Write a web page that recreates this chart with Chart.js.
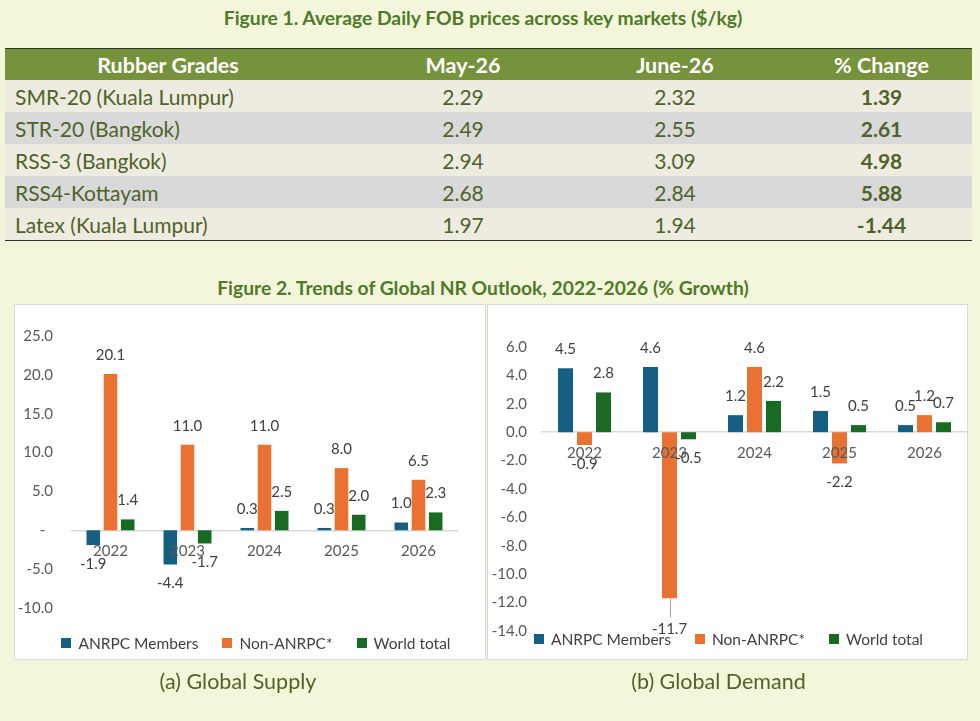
<!DOCTYPE html>
<html>
<head>
<meta charset="utf-8">
<script src="https://cdn.jsdelivr.net/npm/chart.js@4.4.1/dist/chart.umd.min.js"></script>
<style>
  body { margin: 0; width: 980px; height: 721px; background: #F4F6DC; position: relative; overflow: hidden; font-family: Lato, "Open Sans", sans-serif; }
  .title { position: absolute; left: 0; width: 966px; text-align: center; font-weight: bold; font-size: 19.3px; color: #4F7A28; }
  table { position: absolute; left: 5px; top: 48px; width: 967px; border-collapse: collapse; table-layout: fixed; border-top: 1px solid #333; border-bottom: 1px solid #333; }
  th { background: #76923C; color: #fff; font-size: 21.5px; font-weight: bold; height: 31px; padding: 0; text-align: center; }
  td { font-size: 21px; color: #4F6228; height: 32px; padding: 0; text-align: center; }
  td.grade { text-align: left; padding-left: 10px; }
  td.pct { font-weight: bold; }
  th.last, td.pct { padding-left: 36px; }
  tr.odd td { background: #EEECE1; }
  tr.even td { background: #D9D9D9; }
  .panel { position: absolute; background: #fff; border: 1px solid #D9D9D9; }
  .legend { position: absolute; width: 100%; display: flex; justify-content: center; font-size: 15.5px; color: #404040; }
  .legend span.item { display: flex; align-items: center; margin: 0 12px; }
  .legend span.box { width: 10px; height: 10px; margin-right: 7px; display: inline-block; }
  .caption { position: absolute; top: 668px; text-align: center; font-size: 21.5px; color: #4F6228; }
</style>
</head>
<body>
<div class="title" style="top:6px">Figure 1. Average Daily FOB prices across key markets ($/kg)</div>
<table id="prices"></table>
<div class="title" style="top:276px">Figure 2. Trends of Global NR Outlook, 2022-2026 (% Growth)</div>

<div class="panel" style="left:14px;top:304px;width:470px;height:354px">
  <canvas id="supply"></canvas>
  <div class="legend" id="supplyLegend" style="top:329px;left:6px"></div>
</div>
<div class="panel" style="left:487px;top:304px;width:479px;height:354px">
  <canvas id="demand"></canvas>
  <div class="legend" id="demandLegend" style="top:325px;left:1px"></div>
</div>
<div class="caption" style="left:2px;width:472px">(a) Global Supply</div>
<div class="caption" style="left:478px;width:481px">(b) Global Demand</div>

<script>
// table data
const gradeCols = ['Rubber Grades', 'May-26', 'June-26', '% Change'];
const grades = ['SMR-20 (Kuala Lumpur)', 'STR-20 (Bangkok)', 'RSS-3 (Bangkok)', 'RSS4-Kottayam', 'Latex (Kuala Lumpur)'];
const may26 = [2.29, 2.49, 2.94, 2.68, 1.97];
const june26 = [2.32, 2.55, 3.09, 2.84, 1.94];
const pctChange = [1.39, 2.61, 4.98, 5.88, -1.44];

// chart data
const years = ['2022', '2023', '2024', '2025', '2026'];
const seriesNames = ['ANRPC Members', 'Non-ANRPC*', 'World total'];
const supplyAnrpc = [-1.9, -4.4, 0.3, 0.3, 1.0];
const supplyNonAnrpc = [20.1, 11.0, 11.0, 8.0, 6.5];
const supplyWorld = [1.4, -1.7, 2.5, 2.0, 2.3];
const demandAnrpc = [4.5, 4.6, 1.2, 1.5, 0.5];
const demandNonAnrpc = [-0.9, -11.7, 4.6, -2.2, 1.2];
const demandWorld = [2.8, -0.5, 2.2, 0.5, 0.7];

const colors = ['#156082', '#E97132', '#196B24'];

// build the price table
const table = document.getElementById('prices');
const colWidths = [326, 264, 160, 217];
let html = '<colgroup>' + colWidths.map(w => '<col style="width:' + w + 'px">').join('') + '</colgroup>';
html += '<tr>' + gradeCols.map((c, i) => '<th' + (i === 3 ? ' class="last"' : '') + '>' + c + '</th>').join('') + '</tr>';
grades.forEach((g, i) => {
    html += '<tr class="' + (i % 2 ? 'even' : 'odd') + '">' +
        '<td class="grade">' + g + '</td>' +
        '<td>' + may26[i].toFixed(2) + '</td>' +
        '<td>' + june26[i].toFixed(2) + '</td>' +
        '<td class="pct">' + pctChange[i].toFixed(2) + '</td></tr>';
});
table.innerHTML = html;

// value labels at the end of each bar
const barValueLabels = {
    id: 'barValueLabels',
    afterDatasetsDraw(chart, args, opts) {
        const ctx = chart.ctx;
        ctx.save();
        ctx.font = '15px Lato';
        ctx.fillStyle = '#404040';
        ctx.textAlign = 'center';
        ctx.textBaseline = 'middle';
        chart.data.datasets.forEach((ds, di) => {
            chart.getDatasetMeta(di).data.forEach((bar, i) => {
                const v = ds.data[i];
                const dir = v < 0 ? 1 : -1;
                let off = opts.offset;
                const lead = (opts.leaders || []).find(l => l[0] === di && l[1] === i);
                if (lead) {
                    ctx.strokeStyle = '#A6A6A6';
                    ctx.lineWidth = 1;
                    ctx.beginPath();
                    ctx.moveTo(Math.round(bar.x) + 0.5, bar.y);
                    ctx.lineTo(Math.round(bar.x) + 0.5, bar.y + dir * opts.offset);
                    ctx.stroke();
                    off += lead[2];
                }
                ctx.fillText(v.toFixed(1), bar.x, bar.y + dir * off);
            });
        });
        ctx.restore();
    }
};

const makeChart = (id, legendId, data, yOpts, pad, yWidth, yPad, leaders) => {
    const ctx = document.getElementById(id).getContext('2d');
    const chart = new Chart(ctx, {
        type: 'bar',
        data: {
            labels: years,
            datasets: data.map((d, i) => ({
                label: seriesNames[i],
                data: d,
                backgroundColor: colors[i],
                categoryPercentage: 0.67,
                barPercentage: 0.79
            }))
        },
        options: {
            responsive: true,
            maintainAspectRatio: false,
            animation: false,
            layout: { padding: pad },
            plugins: {
                legend: { display: false },
                tooltip: { enabled: false },
                barValueLabels: { offset: 19, leaders: leaders }
            },
            scales: {
                x: {
                    position: { y: 0 },
                    grid: { display: false, drawTicks: false },
                    border: { color: '#D9D9D9', width: 1.5 },
                    ticks: {
                        color: '#595959',
                        font: { size: 15, family: 'Lato' },
                        padding: 12,
                        z: 1
                    }
                },
                y: Object.assign({
                    grid: { display: false, drawTicks: false },
                    border: { display: false },
                    afterFit: (scale) => { scale.width = yWidth; }
                }, yOpts, {
                    ticks: Object.assign({
                        color: '#595959',
                        font: { size: 15, family: 'Lato' },
                        padding: yPad
                    }, yOpts.ticks)
                })
            }
        },
        plugins: [barValueLabels]
    });

    // html legend built from the chart's own legend items
    const items = chart.options.plugins.legend.labels.generateLabels(chart);
    document.getElementById(legendId).innerHTML = items.map(it =>
        '<span class="item"><span class="box" style="background:' + it.fillStyle + '"></span>' + it.text + '</span>'
    ).join('');
    return chart;
};

makeChart('supply', 'supplyLegend', [supplyAnrpc, supplyNonAnrpc, supplyWorld], {
    min: -10, max: 25,
    ticks: { stepSize: 5, callback: (v) => v === 0 ? '-  ' : v.toFixed(1) }
}, { top: 31, bottom: 51, left: 0, right: 28 }, 57, 19, []);

makeChart('demand', 'demandLegend', [demandAnrpc, demandNonAnrpc, demandWorld], {
    min: -14, max: 6,
    ticks: { stepSize: 2, callback: (v) => v.toFixed(1) }
}, { top: 42, bottom: 28, left: 0, right: 0 }, 54, 15, [[1, 1, 12]]);
</script>
</body>
</html>
